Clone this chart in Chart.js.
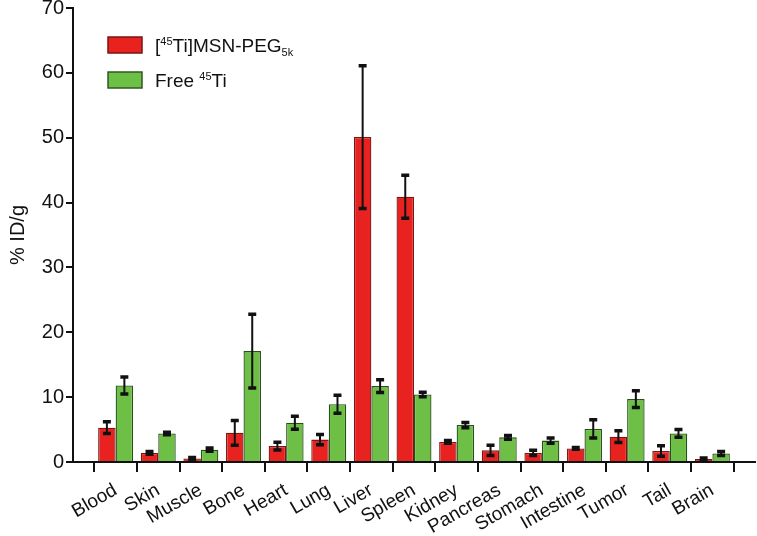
<!DOCTYPE html>
<html>
<head>
<meta charset="utf-8">
<script src="https://cdn.jsdelivr.net/npm/chart.js@4/dist/chart.umd.min.js"></script>
<style>
html,body{margin:0;padding:0;background:#fff;}
#wrap{width:757px;height:536px;position:relative;}
</style>
</head>
<body>
<div id="wrap"><canvas id="c" width="757" height="536"></canvas></div>
<script>
const categories = ['Blood','Skin','Muscle','Bone','Heart','Lung','Liver','Spleen','Kidney','Pancreas','Stomach','Intestine','Tumor','Tail','Brain'];
const msnValues = [5.3, 1.4, 0.55, 4.5, 2.45, 3.45, 50.1, 40.9, 3.1, 1.8, 1.4, 2.1, 3.9, 1.7, 0.45];
const msnErrors = [0.9, 0.2, 0.15, 1.9, 0.6, 0.8, 11.0, 3.3, 0.2, 0.8, 0.4, 0.15, 0.9, 0.8, 0.15];
const freeValues = [11.8, 4.4, 1.9, 17.1, 6.05, 8.9, 11.7, 10.4, 5.7, 3.8, 3.3, 5.1, 9.7, 4.4, 1.3];
const freeErrors = [1.3, 0.2, 0.25, 5.7, 1.0, 1.4, 1.0, 0.35, 0.4, 0.3, 0.4, 1.4, 1.3, 0.6, 0.3];
const yTicks = [0, 10, 20, 30, 40, 50, 60, 70];

const axisLabels = [''].concat(categories, ['']);
const pad = arr => [null].concat(arr, [null]);
const padE = arr => [0].concat(arr, [0]);

const FONT = "'Liberation Sans', Arial, Helvetica, sans-serif";

const errorBars = {
  id: 'errorBars',
  afterDatasetsDraw(chart) {
    const ctx = chart.ctx;
    const y = chart.scales.y;
    ctx.save();
    ctx.strokeStyle = '#111';
    chart.data.datasets.forEach((ds, di) => {
      const meta = chart.getDatasetMeta(di);
      meta.data.forEach((bar, i) => {
        const v = ds.data[i];
        if (v === null || v === undefined) return;
        const e = ds.errors[i];
        const yt = y.getPixelForValue(v + e);
        const yb = y.getPixelForValue(Math.max(v - e, 0));
        ctx.lineWidth = 2;
        ctx.beginPath();
        ctx.moveTo(bar.x, yt);
        ctx.lineTo(bar.x, yb);
        ctx.stroke();
        ctx.lineWidth = 3.5;
        ctx.beginPath();
        ctx.moveTo(bar.x - 4, yt); ctx.lineTo(bar.x + 4, yt);
        ctx.moveTo(bar.x - 4, yb); ctx.lineTo(bar.x + 4, yb);
        ctx.stroke();
      });
    });
    ctx.restore();
  }
};

const customLegend = {
  id: 'customLegend',
  afterDraw(chart) {
    const ctx = chart.ctx;
    const a = chart.chartArea;
    const x0 = a.left + 35, y0 = a.top + 29;
    ctx.save();
    const items = [
      {fill: '#e8231f', stroke: '#7a1414', parts: [['[',0],['45',1],['Ti]MSN-PEG',0],['5k',-1]]},
      {fill: '#6dbf45', stroke: '#2f5a20', parts: [['Free ',0],['45',1],['Ti',0]]}
    ];
    items.forEach((it, k) => {
      const by = y0 + k * 35;
      ctx.fillStyle = it.fill;
      ctx.fillRect(x0, by, 34, 16);
      ctx.strokeStyle = it.stroke;
      ctx.lineWidth = 1.5;
      ctx.strokeRect(x0, by, 34, 16);
      let tx = x0 + 47;
      const base = by + 15;
      ctx.fillStyle = '#111';
      ctx.textBaseline = 'alphabetic';
      it.parts.forEach(([t, s]) => {
        if (s === 0) { ctx.font = '19px ' + FONT; ctx.fillText(t, tx, base); }
        else if (s === 1) { ctx.font = '11px ' + FONT; ctx.fillText(t, tx, base - 7); }
        else { ctx.font = '11px ' + FONT; ctx.fillText(t, tx, base + 4); }
        tx += ctx.measureText(t).width;
      });
    });
    ctx.restore();
  }
};

new Chart(document.getElementById('c'), {
  type: 'bar',
  data: {
    labels: axisLabels,
    datasets: [
      {label: '[45Ti]MSN-PEG5k', data: pad(msnValues), errors: padE(msnErrors),
       backgroundColor: '#e8231f', borderColor: '#7a1714', borderWidth: 1.3,
       categoryPercentage: 0.82, barPercentage: 1.0},
      {label: 'Free 45Ti', data: pad(freeValues), errors: padE(freeErrors),
       backgroundColor: '#6dbf45', borderColor: '#2a5019', borderWidth: 1.3,
       categoryPercentage: 0.82, barPercentage: 1.0}
    ]
  },
  options: {
    responsive: false,
    animation: false,
    layout: {padding: {top: 8, right: 2, left: 0, bottom: 0}},
    plugins: {legend: {display: false}, tooltip: {enabled: false}},
    scales: {
      x: {
        offset: false,
        border: {color: '#111', width: 2},
        grid: {drawOnChartArea: false, drawTicks: true, tickLength: 10, color: '#111', lineWidth: 2},
        ticks: {color: '#111', font: {family: FONT, size: 19}, maxRotation: 30, minRotation: 30, padding: 7, autoSkip: false},
        afterFit(s) { s.height = 74; s.paddingLeft = 0; s.paddingRight = 0; }
      },
      y: {
        min: 0, max: 70,
        border: {color: '#111', width: 2},
        grid: {drawOnChartArea: false, drawTicks: true, tickLength: 7, color: '#111', lineWidth: 2},
        afterBuildTicks(s) { s.ticks = yTicks.map(v => ({value: v})); },
        ticks: {color: '#111', font: {family: FONT, size: 20}, padding: 2},
        title: {display: true, text: '% ID/g', color: '#111', font: {family: FONT, size: 20}, padding: {top: 6, bottom: 0}},
        afterFit(s) { s.width = 73; s.paddingTop = 0; s.paddingBottom = 0; }
      }
    }
  },
  plugins: [errorBars, customLegend]
});
</script>
</body>
</html>
